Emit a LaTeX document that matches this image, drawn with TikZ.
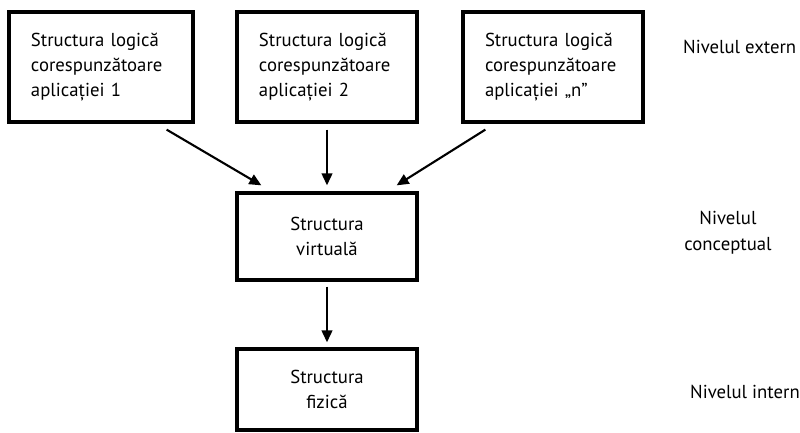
\documentclass[tikz,border=0pt]{standalone}
\usepackage{fontspec}
\setmainfont{PT Sans}
\usetikzlibrary{arrows.meta}

\begin{document}
\begin{tikzpicture}[x=0.03cm, y=-0.03cm,
    level/.style={rectangle, draw=black, line width=2.8pt, minimum height=3.3cm, inner xsep=0.66cm, text width=4.08cm, align=left, font=\fontsize{16}{21.5}\selectfont},
    struct/.style={rectangle, draw=black, line width=2.8pt, minimum width=5.4cm, align=center, font=\fontsize{16}{22}\selectfont},
    arrow/.style={-{Triangle[length=0.36cm, width=0.32cm]}, line width=1.8pt, draw=black},
    label/.style={font=\fontsize{16}{22}\selectfont, align=center}
]
\useasboundingbox (0,0) rectangle (800,433);
\node[level, text width=4.2cm] (app1) at (101, 67) {Structura logică\\corespunzătoare\\aplicației 1};
\node[level] (app2) at (327, 67) {Structura logică\\corespunzătoare\\aplicației 2};
\node[level] (appn) at (553, 67) {Structura logică\\corespunzătoare\\aplicației „n”};
\node[struct, minimum height=2.61cm] (virt) at (327, 236.5) {Structura\\virtuală};
\node[struct, minimum height=2.43cm] (phys) at (327, 389.5) {Structura\\fizică};
\node[label, anchor=west] (lext) at (679, 47) {Nivelul extern};
\node[label] (lconc) at (728, 233) {Nivelul\\conceptual};
\node[label, anchor=west] (lint) at (686, 392) {Nivelul intern};
\draw[arrow] ([xshift=-0.84cm, yshift=-0.18cm]app1.south east) -- ([xshift=0.78cm, yshift=0.18cm]virt.north west);
\draw[arrow] ([yshift=-0.18cm]app2.south) -- ([yshift=0.18cm]virt.north);
\draw[arrow] ([xshift=0.72cm, yshift=-0.18cm]appn.south west) -- ([xshift=-0.66cm, yshift=0.18cm]virt.north east);
\draw[arrow] ([yshift=-0.15cm]virt.south) -- ([yshift=0.15cm]phys.north);
\end{tikzpicture}
\end{document}
